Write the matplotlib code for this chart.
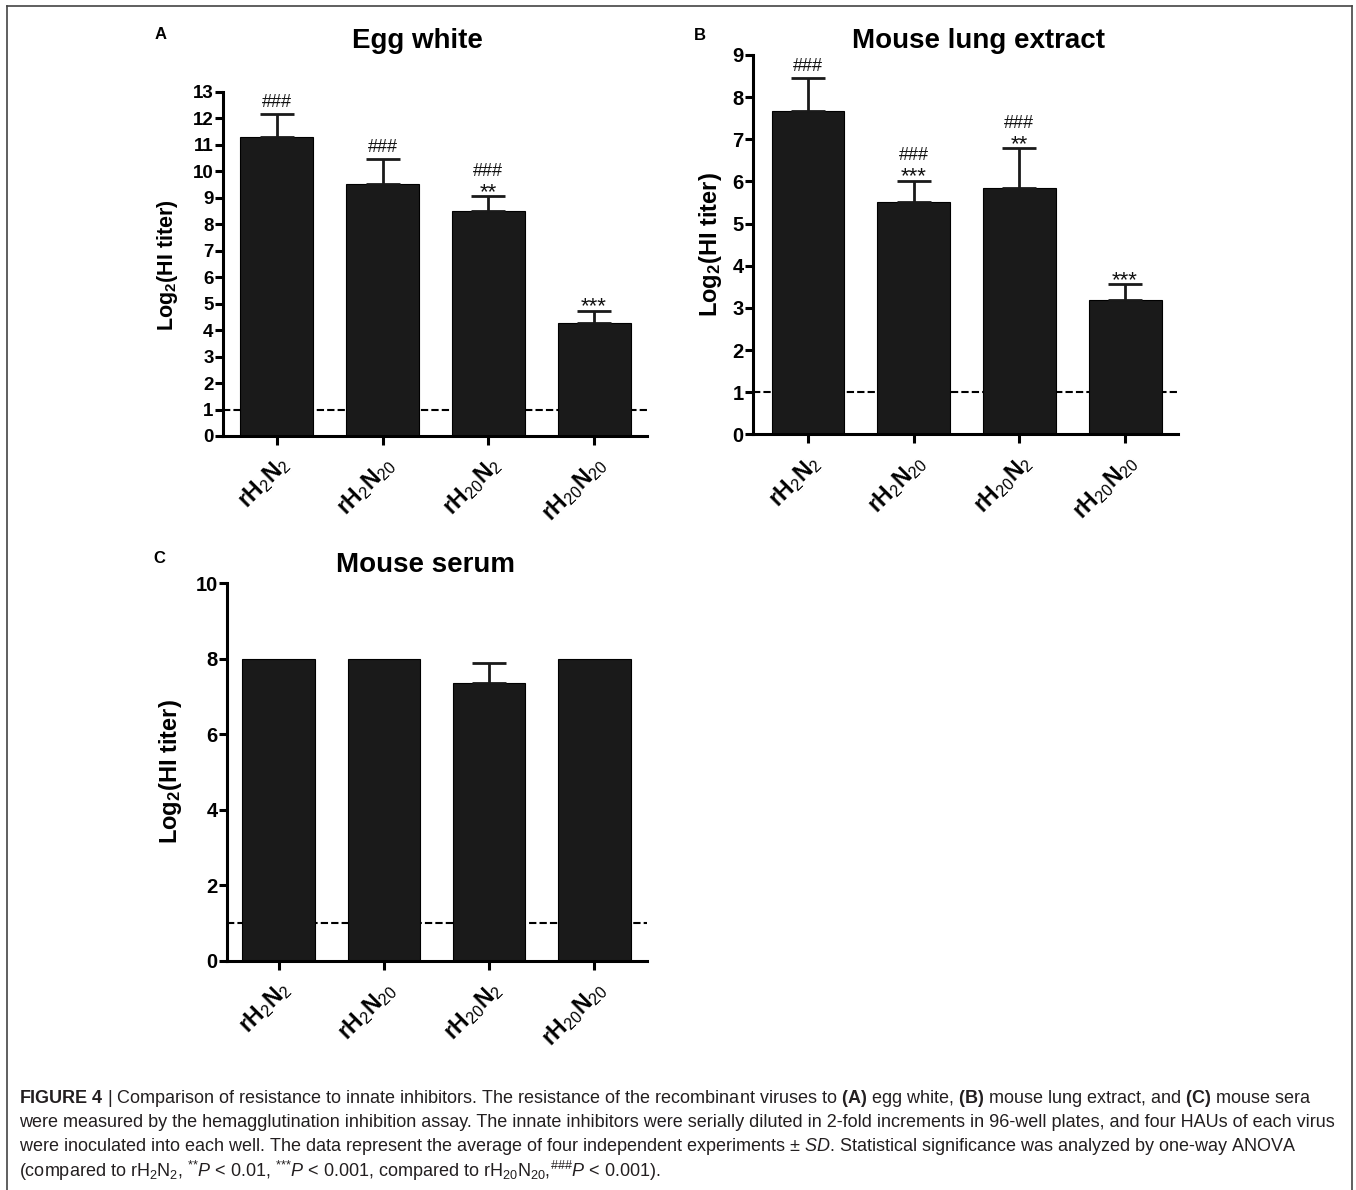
import matplotlib
matplotlib.use("Agg")
import matplotlib.pyplot as plt
from matplotlib.lines import Line2D
import numpy as np

plt.rcParams['font.family'] = ['Liberation Sans', 'DejaVu Sans']
plt.rcParams['mathtext.fontset'] = 'custom'
plt.rcParams['mathtext.rm'] = 'Liberation Sans'
plt.rcParams['mathtext.bf'] = 'Liberation Sans:bold'
plt.rcParams['mathtext.it'] = 'Liberation Sans:italic'

# ---- data ----
viruses = [r'$\mathbf{rH}_\mathrm{2}\mathbf{N}_\mathrm{2}$', r'$\mathbf{rH}_\mathrm{2}\mathbf{N}_\mathrm{20}$',
           r'$\mathbf{rH}_\mathrm{20}\mathbf{N}_\mathrm{2}$', r'$\mathbf{rH}_\mathrm{20}\mathbf{N}_\mathrm{20}$']

egg_mean = [11.29, 9.52, 8.52, 4.26]
egg_sd = [0.87, 0.96, 0.55, 0.48]
egg_marks = [['###'], ['###'], ['**', '###'], ['***']]

lung_mean = [7.68, 5.51, 5.84, 3.19]
lung_sd = [0.77, 0.51, 0.96, 0.38]
lung_marks = [['###'], ['***', '###'], ['**', '###'], ['***']]

serum_mean = [8.0, 8.0, 7.35, 8.0]
serum_sd = [0.0, 0.0, 0.55, 0.0]
serum_marks = [[], [], [], []]

cutoff = 1

W, H = 1356, 1190
fig = plt.figure(figsize=(W / 100, H / 100), dpi=100)
fig.patch.set_facecolor('white')


def px(x, y):
    return x / W, 1 - y / H


def make_axes(left, right, y0, ytop):
    return fig.add_axes([left / W, 1 - y0 / H, (right - left) / W, (y0 - ytop) / H])


def panel(ax, mean, sd, marks, ymax, yticks, xlim, tick_fs):
    x = np.arange(len(mean))
    ax.axhline(cutoff, color='black', lw=1.5, ls=(0, (3.5, 1.5)), zorder=1)
    ax.bar(x, mean, width=0.69, color='#1a1a1a', edgecolor='black', lw=0.8, zorder=2)
    for i in x:
        if sd[i] > 0:
            ax.errorbar(i, mean[i], yerr=[[0], [sd[i]]], fmt='none', ecolor='#1a1a1a',
                        elinewidth=2, capsize=12, capthick=2, zorder=3)
        first = True
        for m in marks[i]:
            if '*' in m:
                off, fs = -1.5, 16
            else:
                off, fs = (5 if first else 14.5), 13
            first = False
            ax.annotate(m, xy=(i, mean[i] + sd[i]), xytext=(0, off),
                        textcoords='offset points', ha='center', va='baseline',
                        fontsize=fs, color='#111111')
    ax.set_xlim(*xlim)
    ax.set_ylim(0, ymax)
    ax.set_yticks(yticks)
    ax.set_xticks(x)
    ax.set_xticklabels(viruses, rotation=45, ha='right', va='top',
                       rotation_mode='anchor', fontsize=16.5)
    for lab in ax.get_yticklabels():
        lab.set_fontweight('bold')
        lab.set_fontsize(tick_fs)
    ax.tick_params(axis='y', width=2.2, length=5.8, pad=1)
    ax.tick_params(axis='x', width=2.2, length=6.5, pad=5)
    for s in ['top', 'right']:
        ax.spines[s].set_visible(False)
    for s in ['left', 'bottom']:
        ax.spines[s].set_linewidth(2.2)
    ax.set_facecolor('none')


axA = make_axes(223, 647, 436, 92)
panel(axA, egg_mean, egg_sd, egg_marks, 13, range(0, 14), (-0.51, 3.5), 13.5)
axB = make_axes(753, 1178, 434.3, 55)
panel(axB, lung_mean, lung_sd, lung_marks, 9, range(0, 10), (-0.52, 3.5), 14.5)
axC = make_axes(227, 647, 961, 583.3)
panel(axC, serum_mean, serum_sd, serum_marks, 10, range(0, 11, 2), (-0.49, 3.5), 14.5)

ylab = r'$\mathbf{Log_2(HI\ titer)}$'
for (lx, ly, fs) in [(168, 265, 15.5), (710, 245, 17), (170, 772, 17)]:
    fig.text(*px(lx, ly), ylab, rotation=90, ha='center', va='center', fontsize=fs)

for (tx, ty, t) in [(417, 48, 'Egg white'), (978, 48, 'Mouse lung extract'),
                    (426, 572, 'Mouse serum')]:
    fig.text(*px(tx, ty), t, ha='center', va='baseline', fontsize=20, fontweight='bold')

for (tx, ty, t) in [(155, 39, 'A'), (694, 40, 'B'), (153, 563, 'C')]:
    fig.text(*px(tx, ty), t, ha='left', va='baseline', fontsize=12, fontweight='bold')

# caption
cap_col = '#231f20'
cap_lines = [
    r'$\mathbf{FIGURE\ 4}$ | Comparison of resistance to innate inhibitors. The resistance of the recombinant viruses to '
    r'$\mathbf{(A)}$ egg white, $\mathbf{(B)}$ mouse lung extract, and $\mathbf{(C)}$ mouse sera',
    'were measured by the hemagglutination inhibition assay. The innate inhibitors were serially diluted in 2-fold '
    'increments in 96-well plates, and four HAUs of each virus',
    'were inoculated into each well. The data represent the average of four independent experiments \u00b1 '
    r'$\mathit{SD}$. Statistical significance was analyzed by one-way ANOVA',
    r'(compared to rH$_2$N$_2$, $^{{*}{*}}$$\mathit{P}$ < 0.01, $^{{*}{*}{*}}$$\mathit{P}$ < 0.001, compared to '
    r'rH$_{20}$N$_{20}$,$^{\#\#\#}$$\mathit{P}$ < 0.001).',
]
for ln, yb in zip(cap_lines, [1103, 1127, 1151, 1177]):
    fig.text(*px(19, yb), ln, ha='left', va='baseline', fontsize=13, color=cap_col)

# outer frame
fx0, fy0 = px(7, 6)
fx1, fy1 = px(1352, 1190)
for xs, ys in [([fx0, fx0], [fy0, fy1]), ([fx0, fx1], [fy0, fy0]), ([fx1, fx1], [fy0, fy1])]:
    fig.add_artist(Line2D(xs, ys, color='#444444', lw=1.2))

fig.savefig('out.png', dpi=100)
